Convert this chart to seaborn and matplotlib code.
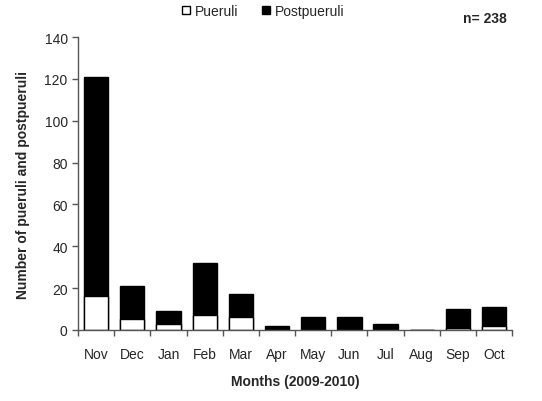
import matplotlib
matplotlib.use("Agg")
import matplotlib.pyplot as plt
import numpy as np
import pandas as pd
import seaborn as sns
from matplotlib.lines import Line2D

months = ['Nov', 'Dec', 'Jan', 'Feb', 'Mar', 'Apr', 'May', 'Jun', 'Jul', 'Aug', 'Sep', 'Oct']
pueruli = [16, 5, 3, 7, 6, 0, 0, 0, 0, 0, 1, 2]
postpueruli = [105, 16, 6, 25, 11, 2, 6, 6, 3, 0, 9, 9]

df = pd.DataFrame({'month': months, 'pueruli': pueruli, 'postpueruli': postpueruli})
df['total'] = df['pueruli'] + df['postpueruli']

sns.set_style('white')
plt.rcParams['font.family'] = ['Liberation Sans', 'DejaVu Sans']

fig = plt.figure(figsize=(5.42, 4.02), dpi=100)
ax = fig.add_axes([0.144, 0.177, 0.801, 0.728])

# stacked look: total in black, pueruli in white on top of it
sns.barplot(data=df, x='month', y='total', color='black', width=0.67,
            edgecolor='black', linewidth=1, saturation=1, ax=ax)
sns.barplot(data=df, x='month', y='pueruli', color='white', width=0.67,
            edgecolor='black', linewidth=1, saturation=1, ax=ax)

ax.set_ylim(0, 140)
ax.set_xlim(-0.5, 11.5)
ax.set_yticks(range(0, 141, 20))
ax.tick_params(axis='y', direction='out', length=4, width=1, left=True, labelsize=10, color='#555555')
ax.tick_params(axis='x', which='major', length=0, labelsize=10, pad=12)
ax.set_xticks(np.arange(-0.5, 12, 1), minor=True)
ax.tick_params(axis='x', which='minor', direction='out', length=4, width=1, bottom=True, color='#555555')

sns.despine(ax=ax)
for s in ['left', 'bottom']:
    ax.spines[s].set_color('#555555')
    ax.spines[s].set_linewidth(1)

ax.set_xlabel('Months (2009-2010)', fontsize=10, fontweight='bold', labelpad=10)
ax.set_ylabel('Number of pueruli and postpueruli', fontsize=10, fontweight='bold', labelpad=10)

handles = [
    Line2D([], [], marker='s', linestyle='none', markerfacecolor='white', markeredgecolor='black', markersize=6),
    Line2D([], [], marker='s', linestyle='none', markerfacecolor='black', markeredgecolor='black', markersize=6),
]
fig.legend(handles, ['Pueruli', 'Postpueruli'], loc='center', bbox_to_anchor=(0.483, 0.97),
           ncol=2, frameon=False, fontsize=10, handletextpad=0.1, columnspacing=1.5, handlelength=1)

fig.text(0.935, 0.952, 'n= 238', fontsize=10, fontweight='bold', ha='right', va='center')

fig.savefig('out.png', dpi=100)
